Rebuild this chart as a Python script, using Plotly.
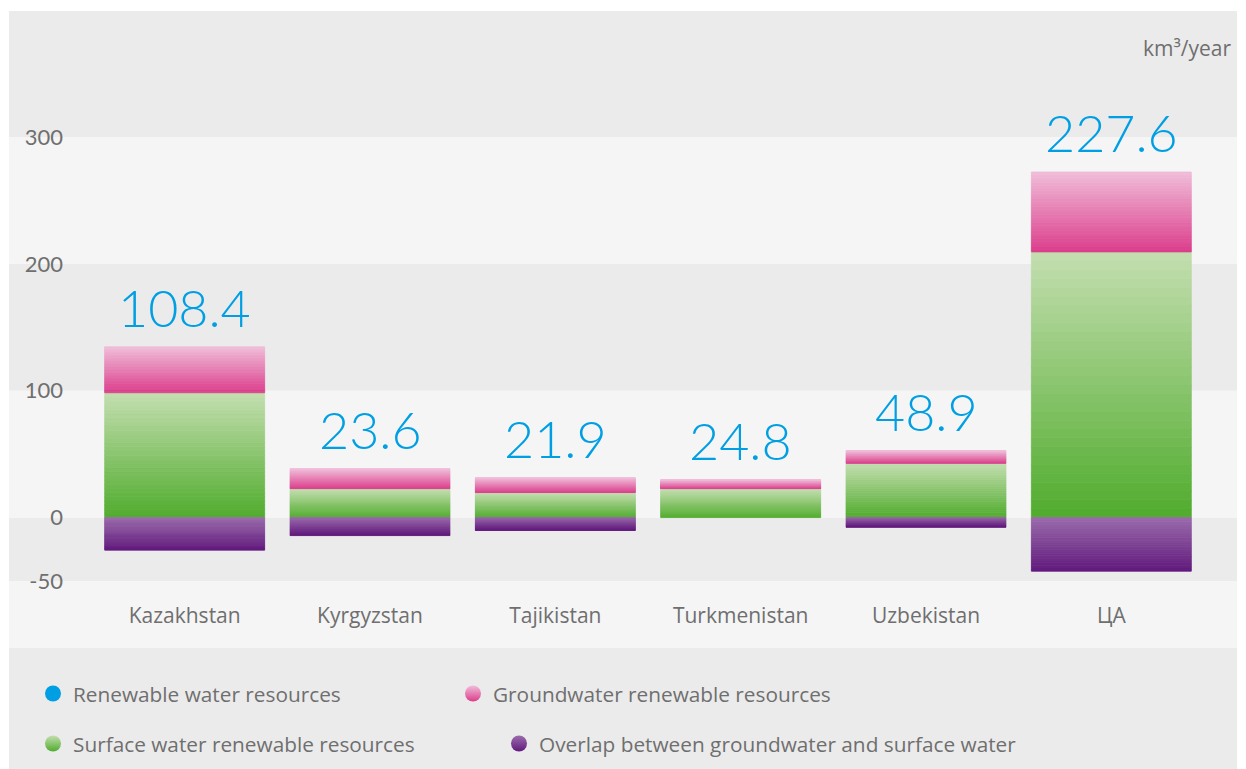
import plotly.graph_objects as go

# ---------------- data ----------------
countries = ["Kazakhstan", "Kyrgyzstan", "Tajikistan", "Turkmenistan", "Uzbekistan", "ЦА"]
surface = [98.4, 22.8, 19.7, 22.8, 42.8, 209.4]        # Surface water renewable resources
groundwater = [36.2, 15.8, 11.8, 7.1, 10.0, 63.0]      # Groundwater renewable resources
overlap = [-25.7, -14.2, -10.2, 0.0, -7.6, -42.3]      # Overlap (negative)
totals = [108.4, 23.6, 21.9, 24.8, 48.9, 227.6]        # Renewable water resources (labels)
y_ticks = [-50, 0, 100, 200, 300]

# ---------------- styling ----------------
FONT_NUM = "Lato"
FONT = "Open Sans"
GRAY_TXT = "#6f6f6f"
BLUE = "#009fe3"
DARK_BAND = "#ebebeb"
LIGHT_BAND = "#f5f5f5"
GREEN = ("#c4deb0", "#50ac2d")    # (top, bottom)
PINK = ("#f0bdd9", "#db3d8b")
PURPLE = ("#9b6cac", "#611a7d")
K = 30  # number of slices used to render each vertical gradient

OFF = 8  # page body margin in the browser
W, H = 1238, 761
ML, MT = 84, 3
PR, PB = 1196, 573        # plot right / bottom in figure px
MR, MB = W - PR, H - PB
PW, PH = PR - ML, PB - MT
Y0, Y1 = -50, 399.3


def hex2rgb(h):
    h = h.lstrip("#")
    return tuple(int(h[i:i + 2], 16) for i in (0, 2, 4))


def blend(c_top, c_bot, t):  # t=0 -> top, t=1 -> bottom
    a, b = hex2rgb(c_top), hex2rgb(c_bot)
    r = [round(a[i] + (b[i] - a[i]) * t) for i in range(3)]
    return "rgb(%d,%d,%d)" % tuple(r)


def px_x(p):  # screen px -> paper x
    return (p - OFF - ML) / PW


def px_y(p):  # screen px -> paper y
    return (PB - (p - OFF)) / PH


fig = go.Figure()


def add_gradient_segment(values, cols, positive=True):
    for k in range(K):
        t = 1 - (k + 0.5) / K if positive else (k + 0.5) / K
        col = blend(cols[0], cols[1], t)
        fig.add_trace(go.Bar(
            x=countries, y=[(v / K) if v else None for v in values],
            marker=dict(color=col, line=dict(width=0.8, color=col)),
            showlegend=False, hoverinfo="skip",
        ))


add_gradient_segment(surface, GREEN, True)
add_gradient_segment(groundwater, PINK, True)
add_gradient_segment(overlap, PURPLE, False)

# legend entries: one legend per entry so each can be placed like the reference
legend_items = [
    ("Renewable water resources", (BLUE, BLUE), "legend", 25, 686),
    ("Groundwater renewable resources", PINK, "legend2", 445, 686),
    ("Surface water renewable resources", GREEN, "legend3", 25, 736),
    ("Overlap between groundwater and surface water", PURPLE, "legend4", 491, 736),
]
legend_layout = {}
for name, cols, lg, lx, ly in legend_items:
    fig.add_trace(go.Scatter(
        x=[None], y=[None], mode="markers", name=name, legend=lg,
        marker=dict(size=16, color=cols[0], symbol="circle", line=dict(width=0),
                    gradient=dict(type="vertical", color=cols[1])),
        hoverinfo="skip",
    ))
    legend_layout[lg] = dict(
        orientation="h", x=(lx - ML) / PW, y=(PB - ly) / PH,
        xanchor="left", yanchor="middle", bgcolor="rgba(0,0,0,0)",
        font=dict(family=FONT, size=20.8, color=GRAY_TXT))

# total value labels above bars
for c, s, g, t in zip(countries, surface, groundwater, totals):
    fig.add_annotation(x=c, y=s + g, text=f"{t:.1f}", showarrow=False,
                       yanchor="bottom", yshift=7,
                       font=dict(family=FONT_NUM, size=52, color=BLUE, weight=300))

# background bands
shapes = []
xl, xr = px_x(9), px_x(1237)
bounds = y_ticks + [Y1]
for i in range(len(bounds) - 1):
    shapes.append(dict(type="rect", xref="paper", yref="y", x0=xl, x1=xr,
                       y0=bounds[i], y1=bounds[i + 1], layer="below", line=dict(width=0),
                       fillcolor=DARK_BAND if i % 2 == 0 else LIGHT_BAND))
shapes.append(dict(type="rect", xref="paper", yref="paper", x0=xl, x1=xr,
                   y0=px_y(648), y1=0, layer="below", line=dict(width=0), fillcolor=LIGHT_BAND))
shapes.append(dict(type="rect", xref="paper", yref="paper", x0=xl, x1=xr,
                   y0=px_y(775), y1=px_y(648), layer="below", line=dict(width=0), fillcolor=DARK_BAND))

fig.add_annotation(xref="paper", yref="paper", x=px_x(1233), y=px_y(48),
                   xanchor="right", yanchor="middle", showarrow=False,
                   text="km³/year", font=dict(family=FONT, size=21, color=GRAY_TXT))

fig.update_layout(
    width=W, height=H,
    margin=dict(l=ML, r=MR, t=MT, b=MB),
    paper_bgcolor="white", plot_bgcolor="rgba(0,0,0,0)",
    barmode="relative", bargap=0.137,
    shapes=shapes,
    font=dict(family=FONT, color=GRAY_TXT),
    xaxis=dict(type="category", showgrid=False, zeroline=False, showline=False,
               ticks="", ticklabelstandoff=20,
               tickfont=dict(family=FONT, size=21, color=GRAY_TXT)),
    yaxis=dict(range=[Y0, Y1], tickvals=y_ticks, ticktext=[str(v) for v in y_ticks],
               showgrid=False, zeroline=False,
               showline=False, ticks="", ticklabelstandoff=28,
               tickfont=dict(family=FONT_NUM, size=22, color=GRAY_TXT)),
    **legend_layout,
)

fig.write_html("out.html")
